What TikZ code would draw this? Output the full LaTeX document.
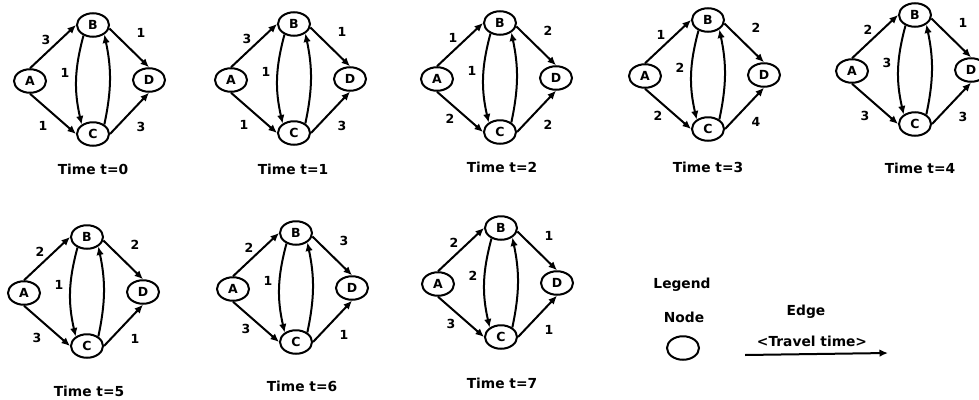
\documentclass[tikz,border=0pt]{standalone}
\usepackage{fontspec}
\setmainfont{DejaVu Sans}
\usetikzlibrary{shapes.geometric,arrows.meta}
\tikzset{
  nd/.style={draw, ellipse, line width=2pt, minimum width=32pt, minimum height=23.5pt, inner sep=0pt, font=\fontsize{12.5}{14}\selectfont\bfseries},
  ed/.style={line width=2pt, -{Latex[length=8.5pt,width=7.5pt]}},
  lb/.style={font=\fontsize{12.5}{14}\selectfont\bfseries, inner sep=0pt},
  tl/.style={font=\fontsize{13.8}{16}\selectfont\bfseries, inner sep=0pt}
}
% #1 x, #2 y of A (image px, y down), #3 AB, #4 BD, #5 BC, #6 AC, #7 CD, #8 suffix, #9 AC label dy
\newcommand{\tgraph}[9]{%
\begin{scope}[shift={(#1,-#2)}]
  \node[nd] (A#8) at (0,0) {A};
  \node[nd] (B#8) at (63,56) {B};
  \node[nd] (D#8) at (119,1) {D};
  \node[nd] (C#8) at (63,-53) {C};
  \draw[ed] (A#8.north) -- (B#8.west);
  \draw[ed] (B#8.-12) -- (D#8.north);
  \draw[ed] (A#8.south) -- (C#8.west);
  \draw[ed] (C#8.east) -- (D#8.south);
  \draw[ed] (B#8.228) to[bend right=14] (C#8.140);
  \draw[ed] (C#8.40) to[bend right=12] (B#8.-40);
  \node[lb] (lab#8) at (16,41) {#3};
  \node[lb] (lbd#8) at (111,48) {#4};
  \node[lb] (lbc#8) at (35,8) {#5};
  \node[lb] (lac#8) at (13,-#9) {#6};
  \node[lb] (lcd#8) at (111,-46) {#7};
\end{scope}}
\begin{document}
\begin{tikzpicture}[x=1pt,y=1pt]
  \useasboundingbox (0,0) rectangle (979,-399);
  \tgraph{30}{81}{3}{1}{1}{1}{3}{g0}{45}
  \tgraph{231}{80}{3}{1}{1}{1}{3}{g1}{45}
  \tgraph{437}{79}{1}{2}{1}{2}{2}{g2}{40}
  \tgraph{645}{76}{1}{2}{2}{2}{4}{g3}{40}
  \tgraph{852}{71}{2}{1}{3}{3}{3}{g4}{45}
  \tgraph{24}{293}{2}{2}{1}{3}{1}{g5}{45}
  \tgraph{233}{289}{2}{3}{1}{3}{1}{g6}{40}
  \tgraph{438}{284}{2}{1}{2}{3}{1}{g7}{40}
  \node[tl] (t0) at (93,-169) {Time t=0};
  \node[tl] (t1) at (293,-169) {Time t=1};
  \node[tl] (t2) at (502,-167) {Time t=2};
  \node[tl] (t3) at (708,-167) {Time t=3};
  \node[tl] (t4) at (920,-168) {Time t=4};
  \node[tl] (t5) at (89,-391) {Time t=5};
  \node[tl] (t6) at (302,-386) {Time t=6};
  \node[tl] (t7) at (502,-383) {Time t=7};
  % legend
  \node[tl] (legend) at (682,-285) {Legend};
  \node[tl] (nodelab) at (684,-317) {Node};
  \node[nd] (legnode) at (683,-348) {};
  \node[tl] (edgelab) at (806,-312) {Edge};
  \node[tl] (ttlab) at (812,-341) {<Travel time>};
  \coordinate (e1) at (745,-355);
  \coordinate (e2) at (888,-353);
  \draw[ed] (e1) -- (e2);
\end{tikzpicture}
\end{document}
